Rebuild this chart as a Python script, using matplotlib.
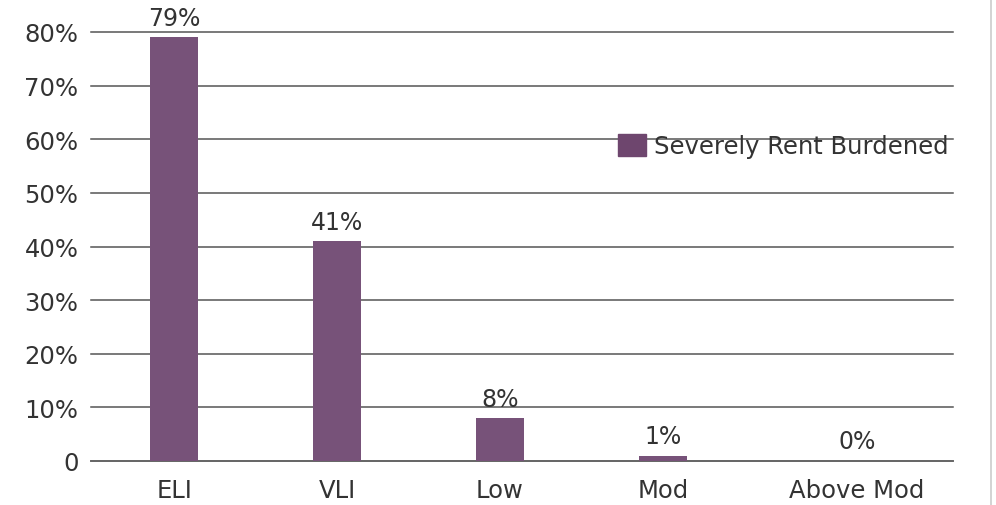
import matplotlib
matplotlib.use("Agg")
import matplotlib.pyplot as plt
from matplotlib.lines import Line2D
import numpy as np

categories = ["ELI", "VLI", "Low", "Mod", "Above Mod"]
values = [0.79, 0.41, 0.08, 0.01, 0.00]
bar_labels = ["79%", "41%", "8%", "1%", "0%"]
series_name = "Severely Rent Burdened"
ytick_vals = [0, 0.1, 0.2, 0.3, 0.4, 0.5, 0.6, 0.7, 0.8]
ytick_labels = ["0", "10%", "20%", "30%", "40%", "50%", "60%", "70%", "80%"]

plt.rcParams['font.family'] = ['DejaVu Sans']

def main():
    fig = plt.figure(figsize=(9.96, 5.06), dpi=100)
    ax = fig.add_axes([91/996, 44/506, (953-91)/996, (462-33)/506])

    pos = np.array([0, 1, 2, 3, 4.19])
    ax.bar(pos, values, width=0.29, color="#775279", zorder=3,
           label=series_name)

    for x, v, lab in zip(pos, values, bar_labels):
        ax.annotate(lab, (x, v), xytext=(0, 9), textcoords="offset points",
                    ha="center", va="baseline", fontsize=17, color="#333333",
                    annotation_clip=False)

    ax.set_xlim(-0.51, 4.78)
    ax.set_ylim(0, 0.8)
    ax.set_yticks(ytick_vals)
    ax.set_yticklabels(ytick_labels)
    ax.set_xticks(pos)
    ax.set_xticklabels(categories)
    ax.tick_params(axis="y", length=0, pad=9, labelsize=17.5, labelcolor="#333333")
    ax.tick_params(axis="x", length=0, pad=12, labelsize=17.5, labelcolor="#333333")

    ax.grid(axis="y", color="#555555", linewidth=1.1, zorder=0)
    for gl in ax.get_ygridlines():
        gl.set_clip_on(False)
    for s in ["left", "right", "top"]:
        ax.spines[s].set_visible(False)
    ax.spines["bottom"].set_color("#666666")
    ax.spines["bottom"].set_linewidth(1.3)

    leg = ax.legend(loc="upper left", bbox_to_anchor=(0.6, 0.785), frameon=False,
                    fontsize=17.5, handlelength=1.15, handleheight=1.03,
                    handletextpad=0.33, borderaxespad=0)
    for t in leg.get_texts():
        t.set_color("#333333")
    for h in leg.legend_handles:
        h.set_color("#6e466e")

    # faint border on the right edge
    fig.add_artist(Line2D([991/996, 991/996], [0, 1], color="#cccccc",
                          linewidth=1.2, transform=fig.transFigure))

    fig.savefig("out.png", dpi=100)

if __name__ == "__main__":
    main()
